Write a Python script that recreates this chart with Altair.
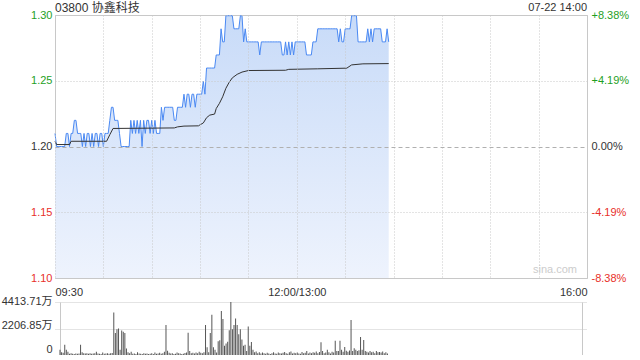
import altair as alt
import pandas as pd

FONT = "Liberation Sans, Noto Sans CJK SC, sans-serif"

# ---- data (one value per minute from 09:30) ----
price = [
    1.21, 1.20, 1.20, 1.20, 1.20, 1.20, 1.20, 1.21, 1.21, 1.20,
    1.21, 1.21, 1.22, 1.22, 1.21, 1.21, 1.21, 1.20, 1.21, 1.20,
    1.21, 1.21, 1.20, 1.21, 1.20, 1.21, 1.21, 1.20, 1.21, 1.21,
    1.20, 1.21, 1.21, 1.21, 1.22, 1.23, 1.23, 1.22, 1.22, 1.22,
    1.21, 1.20, 1.20, 1.20, 1.20, 1.20, 1.20, 1.22, 1.21, 1.22,
    1.21, 1.22, 1.21, 1.22, 1.20, 1.22, 1.21, 1.22, 1.22, 1.21,
    1.22, 1.21, 1.22, 1.21, 1.21, 1.21, 1.23, 1.22, 1.23, 1.23,
    1.23, 1.23, 1.23, 1.23, 1.22, 1.22, 1.23, 1.23, 1.23, 1.23,
    1.24, 1.23, 1.24, 1.24, 1.23, 1.24, 1.24, 1.23, 1.24, 1.24,
    1.24, 1.24, 1.25, 1.24, 1.26, 1.26, 1.26, 1.26, 1.26, 1.26,
    1.27, 1.27, 1.27, 1.29, 1.28, 1.28, 1.30, 1.30, 1.30, 1.30,
    1.30, 1.29, 1.29, 1.29, 1.29, 1.30, 1.30, 1.28, 1.29, 1.28,
    1.28, 1.28, 1.28, 1.28, 1.28, 1.28, 1.28, 1.27, 1.28, 1.28,
    1.28, 1.28, 1.28, 1.28, 1.28, 1.28, 1.28, 1.28, 1.28, 1.28,
    1.28, 1.27, 1.27, 1.28, 1.27, 1.28, 1.27, 1.28, 1.27, 1.28,
    1.28, 1.28, 1.28, 1.28, 1.28, 1.28, 1.27, 1.27, 1.27, 1.27,
    1.28, 1.28, 1.28, 1.29, 1.29, 1.29, 1.29, 1.29, 1.29, 1.29,
    1.29, 1.29, 1.29, 1.29, 1.29, 1.29, 1.28, 1.29, 1.28, 1.28,
    1.29, 1.29, 1.29, 1.29, 1.30, 1.30, 1.30, 1.30, 1.28, 1.28,
    1.28, 1.28, 1.28, 1.28, 1.29, 1.28, 1.29, 1.28, 1.29, 1.29,
    1.29, 1.29, 1.29, 1.28, 1.28, 1.28, 1.29, 1.28,
]

volume = [  # 万
    430, 220, 190, 860, 430, 280, 110, 150, 110, 90,
    130, 100, 120, 860, 220, 150, 120, 150, 110, 150,
    100, 130, 150, 280, 120, 100, 90, 200, 110, 130,
    150, 110, 140, 160, 3530, 1830, 2150, 2200, 430, 2030,
    1940, 1830, 540, 220, 150, 280, 110, 130, 90, 220,
    130, 110, 90, 150, 110, 130, 90, 110, 150, 90,
    200, 110, 130, 180, 110, 150, 280, 2500, 350, 180,
    130, 150, 90, 110, 200, 150, 130, 90, 110, 170,
    200, 1850, 330, 150, 180, 130, 200, 150, 280, 180,
    150, 220, 2500, 650, 220, 1830, 3350, 650, 430, 200,
    1150, 1230, 3660, 3000, 760, 950, 1100, 2070, 4413.71, 2150,
    2500, 3050, 2500, 1720, 2150, 1300, 760, 860, 330, 2370,
    760, 1080, 430, 220, 300, 150, 220, 130, 200, 150,
    110, 180, 130, 90, 150, 220, 130, 110, 200, 150,
    130, 180, 250, 150, 110, 220, 300, 130, 180, 150,
    200, 130, 110, 250, 150, 180, 330, 130, 200, 150,
    220, 180, 300, 150, 250, 1060, 330, 150, 200, 440,
    220, 130, 280, 200, 1190, 330, 330, 1190, 440, 280,
    660, 350, 280, 380, 2910, 330, 560, 440, 330, 400,
    1500, 440, 1240, 330, 280, 200, 330, 220, 280, 150,
    330, 220, 260, 200, 300, 150, 220, 130,
]

avg_minutes = [0, 1, 9, 10, 32, 34, 36, 74, 76, 80,
               89, 90, 92, 94, 96, 99, 100, 102, 104, 106,
               108, 110, 113, 116, 120, 143, 145, 163, 181, 184,
               191, 207]
avg_values = [1.204, 1.2015, 1.2015, 1.204, 1.204, 1.209, 1.2138, 1.2142, 1.215, 1.2156,
              1.2158, 1.2166, 1.218, 1.222, 1.224, 1.2248, 1.229, 1.233, 1.238, 1.2445,
              1.249, 1.2525, 1.2552, 1.2569, 1.2581, 1.2583, 1.259, 1.2594, 1.2599, 1.2624,
              1.2632, 1.2634]

stock_title = "03800 协鑫科技"
stamp = "07-22 14:00"
watermark = "sina.com"

time_ticks = [0, 30, 60, 90, 120, 150, 180, 210, 240, 270, 300, 330]
time_label_pos = [0, 150, 330]
time_labels = ["09:30", "12:00/13:00", "16:00"]

prev_close = 1.20
price_ticks = [1.09944, 1.14972, 1.20, 1.25028, 1.30056]
price_labels = ["1.10", "1.15", "1.20", "1.25", "1.30"]
pct_labels = ["-8.38%", "-4.19%", "0.00%", "+4.19%", "+8.38%"]

vol_ticks = [0, 2206.85, 4413.71]
vol_labels = ["0", "2206.85万", "4413.71万"]

# ---- styling ----
W = 532
H_PRICE = 263
H_VOL = 53
GREEN = "#1f9f1f"
RED = "#e8302a"
DARK = "#333333"
BLUE = "#4a89f3"
GRID = "#c8c8c8"


def label_expr(values, labels, tol):
    expr = "''"
    for v, l in zip(values, labels):
        expr = f"abs(datum.value - {v}) < {tol} ? '{l}' : ({expr})"
    return expr


price_df = pd.DataFrame({"minute": list(range(len(price))), "price": price})
vol_df = pd.DataFrame({"minute": list(range(len(volume))), "vol": volume})
avg_df = pd.DataFrame({"minute": avg_minutes, "avg": avg_values})

x_scale = alt.Scale(domain=[0, 330], nice=False, zero=False)
y_scale = alt.Scale(domain=[price_ticks[0], price_ticks[-1]], nice=False, zero=False)

pc_test = f"abs(datum.value - {prev_close}) < 0.0001"
label_color = {
    "condition": [
        {"test": f"datum.value > {prev_close} + 0.0001", "value": GREEN},
        {"test": f"datum.value < {prev_close} - 0.0001", "value": RED},
    ],
    "value": DARK,
}

x_axis = alt.Axis(
    values=time_ticks,
    labelExpr=label_expr(time_label_pos, time_labels, 0.5),
    labelFlush=True,
    labelOverlap=False,
    grid=True,
    gridColor=GRID,
    gridDash=[1, 2],
    ticks=False,
    domain=False,
    title=None,
    labelPadding=8,
    labelColor=DARK,
    zindex=1,
)

left_axis = alt.Axis(
    values=price_ticks,
    labelExpr=label_expr(price_ticks, price_labels, 0.0001),
    labelColor=label_color,
    grid=True,
    gridColor={"condition": {"test": pc_test, "value": "#b0b0b0"}, "value": GRID},
    gridDash={"condition": {"test": pc_test, "value": [4, 3]}, "value": [1, 2]},
    ticks=False,
    domain=False,
    title=None,
    labelPadding=3,
    zindex=1,
)

right_axis = alt.Axis(
    orient="right",
    values=price_ticks,
    labelExpr=label_expr(price_ticks, pct_labels, 0.0001),
    labelColor=label_color,
    grid=False,
    ticks=False,
    domain=False,
    title=None,
    labelPadding=4,
)

X = alt.X("minute:Q", scale=x_scale, axis=x_axis)

gradient = alt.Gradient(
    gradient="linear",
    stops=[alt.GradientStop(color="#c8dbf8", offset=0),
           alt.GradientStop(color="#eef3fd", offset=1)],
    x1=1, x2=1, y1=0, y2=1,
)

area = alt.Chart(price_df).mark_area(color=gradient).encode(
    x=X,
    y=alt.Y("price:Q", scale=y_scale, axis=None),
    y2=alt.Y2(datum=price_ticks[0]),
)
line = alt.Chart(price_df).mark_line(color=BLUE, strokeWidth=1).encode(
    x=X, y=alt.Y("price:Q", scale=y_scale, axis=left_axis)
)
avg = alt.Chart(avg_df).mark_line(color=DARK, strokeWidth=1).encode(
    x=X, y=alt.Y("avg:Q", scale=y_scale, axis=right_axis)
)

t_title = alt.Chart(pd.DataFrame({"t": [stock_title]})).mark_text(
    align="left", baseline="middle", font=FONT, fontSize=12, color=DARK
).encode(x=alt.value(0), y=alt.value(-7), text="t:N")
t_stamp = alt.Chart(pd.DataFrame({"t": [stamp]})).mark_text(
    align="right", baseline="middle", font=FONT, fontSize=11, color=DARK
).encode(x=alt.value(W), y=alt.value(-7), text="t:N")
t_mark = alt.Chart(pd.DataFrame({"t": [watermark]})).mark_text(
    align="center", baseline="middle", font=FONT, fontSize=11, color="#cccccc"
).encode(x=alt.value(500), y=alt.value(255), text="t:N")

price_chart = alt.layer(area, line, avg, t_title, t_stamp, t_mark).resolve_axis(
    y="independent"
).properties(
    width=W, height=H_PRICE,
    view=alt.ViewBackground(stroke="#c8c8c8", strokeOpacity=1, strokeWidth=1),
)

vol_chart = alt.Chart(vol_df).mark_bar(size=1, color="#555555").encode(
    x=alt.X("minute:Q", scale=x_scale,
            axis=alt.Axis(values=[0, 330], labels=False, ticks=False, domain=False,
                          grid=True, gridColor="#c8c8c8", title=None)),
    y=alt.Y("vol:Q", scale=alt.Scale(domain=[vol_ticks[0], vol_ticks[-1]], nice=False),
            axis=alt.Axis(values=vol_ticks, labelExpr=label_expr(vol_ticks, vol_labels, 0.01),
                          grid=True, gridColor=GRID, gridDash=[1, 1], ticks=False,
                          domain=False, title=None, labelBaseline="alphabetic",
                          labelOffset={"condition": [
                              {"test": "datum.value > 3000", "value": 2},
                              {"test": "datum.value < 1", "value": -3}],
                              "value": 0},
                          labelPadding=3, labelColor=DARK)),
).properties(width=W, height=H_VOL)

chart = alt.vconcat(price_chart, vol_chart, spacing=24, bounds="flush").properties(
    padding={"left": 1, "top": 1, "right": 0, "bottom": 0},
    background="white",
).configure_view(strokeOpacity=0).configure_axis(
    labelFont=FONT, labelFontSize=11
)

chart.save("out.html", embed_options={"renderer": "svg", "actions": False})
